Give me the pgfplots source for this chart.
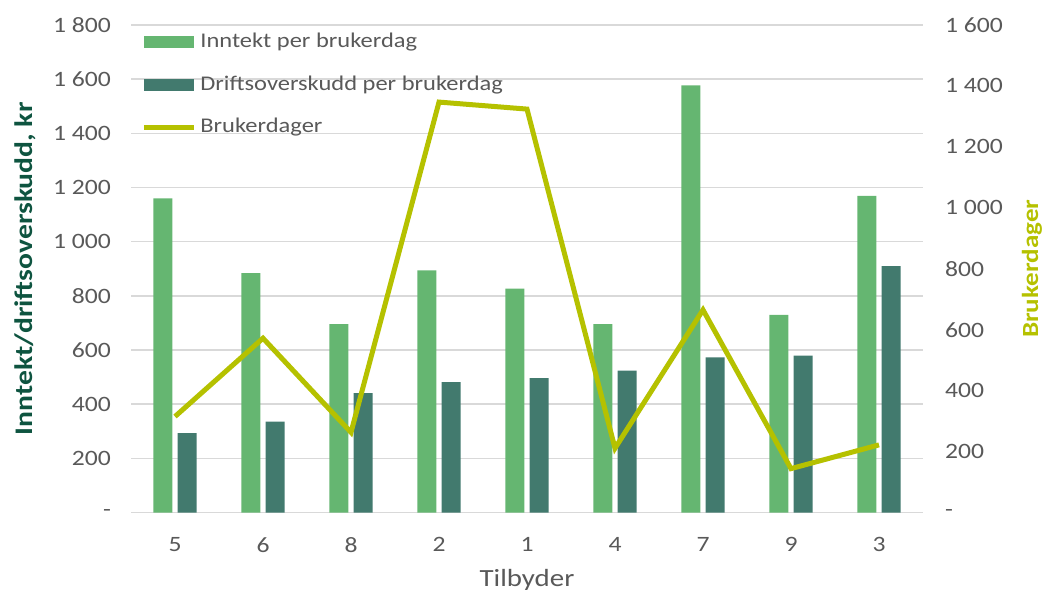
\documentclass[border=0pt]{standalone}
\usepackage{pgfplots}
\pgfplotsset{compat=1.18}
\usepackage{fontspec}
\setmainfont{Carlito}[FakeStretch=1.17]
\usetikzlibrary{calc}

\definecolor{bargreen}{RGB}{101,182,113}
\definecolor{darkteal}{RGB}{66,122,110}
\definecolor{linegreen}{RGB}{181,193,0}
\definecolor{labelgreen}{RGB}{14,84,64}
\definecolor{tickgray}{RGB}{89,89,89}
\definecolor{gridgray}{RGB}{217,217,217}

\begin{document}
\begin{tikzpicture}
    \begin{axis}[
        name=a,
        scale only axis,
        width=396bp,
        height=243.75bp,
        xmin=-0.5, xmax=8.5,
        ymin=0, ymax=1800,
        xtick={0,...,8},
        xticklabels={5,6,8,2,1,4,7,9,3},
        ytick={0,200,...,1800},
        yticklabels={-,200,400,600,800,1 000,1 200,1 400,1 600,1 800},
        axis line style={draw=none},
        tick style={draw=none},
        ymajorgrids=true,
        major grid style={gridgray, line width=0.75bp},
        tick label style={font=\fontsize{11}{13}\selectfont, text=tickgray},
        yticklabel style={xshift=-6.5bp},
        xticklabel style={yshift=-9bp},
        xlabel={Tilbyder},
        every axis x label/.style={at={(rel axis cs:0.5,0)}, yshift=-33.5bp, anchor=center,
            font=\fontsize{12.4}{14}\selectfont, text=tickgray},
        ylabel={\bfseries Inntekt/driftsoverskudd, kr},
        every axis y label/.style={at={(rel axis cs:0,0.5)}, xshift=-53bp, rotate=90, anchor=center,
            font=\fontsize{12.7}{14}\selectfont, text=labelgreen},
        legend cell align=left,
        legend style={draw=none, fill=none, at={(rel axis cs:0,1)}, anchor=north west,
            xshift=5bp, yshift=-2bp, font=\fontsize{10.5}{12}\selectfont, text=tickgray,
            row sep=8.5bp, inner sep=0pt},
    ]
        \addplot[ybar, bar width=0.216, bar shift=-0.137, fill=bargreen, draw=none,
            legend image code/.code={\fill[bargreen] (0bp,-3bp) rectangle (25bp,3bp);}]
            coordinates {
                (0, 1160)
                (1, 884)
                (2, 696)
                (3, 894)
                (4, 827)
                (5, 696)
                (6, 1577)
                (7, 730)
                (8, 1169)
        };
        \addlegendentry{Inntekt per brukerdag}

        \addplot[ybar, bar width=0.216, bar shift=0.137, fill=darkteal, draw=none,
            legend image code/.code={\fill[darkteal] (0bp,-3bp) rectangle (25bp,3bp);}]
            coordinates {
                (0, 293)
                (1, 336)
                (2, 441)
                (3, 481)
                (4, 496)
                (5, 524)
                (6, 573)
                (7, 579)
                (8, 910)
        };
        \addlegendentry{Driftsoverskudd per brukerdag}

        \addlegendimage{linegreen, line width=2.5bp,
            legend image code/.code={\draw[linegreen, line width=2.5bp] (0bp,0bp) -- (25bp,0bp);}}
        \addlegendentry{Brukerdager}
    \end{axis}

    \begin{axis}[
        scale only axis,
        width=396bp,
        height=243.75bp,
        xmin=-0.5, xmax=8.5,
        ymin=0, ymax=1600,
        axis x line=none,
        axis y line*=right,
        axis line style={draw=none},
        tick style={draw=none},
        ytick={0,200,...,1600},
        yticklabels={-,200,400,600,800,1 000,1 200,1 400,1 600},
        tick label style={font=\fontsize{11}{13}\selectfont, text=tickgray},
        yticklabel style={xshift=7.5bp},
        ylabel={\bfseries Brukerdager},
        every axis y label/.style={at={(rel axis cs:1,0.5)}, xshift=54.5bp, rotate=90, anchor=center,
            font=\fontsize{11.6}{13}\selectfont, text=linegreen},
    ]
        \addplot[linegreen, line width=2.5bp, mark=none]
            coordinates {
                (0, 315)
                (1, 572)
                (2, 263)
                (3, 1347)
                (4, 1324)
                (5, 211)
                (6, 665)
                (7, 144)
                (8, 222)
        };
    \end{axis}

    \pgfresetboundingbox
    \path ($(a.south west)+(-65.5bp,-40.25bp)$) rectangle ($(a.north east)+(61bp,12.5bp)$);
\end{tikzpicture}
\end{document}
